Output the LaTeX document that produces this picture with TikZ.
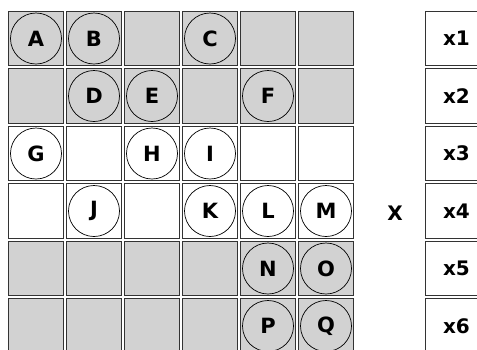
\documentclass[tikz,border=0pt]{standalone}
\usepackage{fontspec}
\setmainfont{DejaVu Sans}
\begin{document}
\begin{tikzpicture}[x=1pt,y=-1pt,
  cellbox/.style={draw=black!80,line width=0.9pt,minimum width=55pt,minimum height=54.5pt,inner sep=0pt,outer sep=0pt},
  gcell/.style={cellbox,fill=gray!35},
  wcell/.style={cellbox,fill=white},
  tok/.style={circle,draw=black,line width=0.7pt,minimum size=51pt,inner sep=0pt,font=\fontsize{21}{24}\selectfont\bfseries},
  xbox/.style={draw=black!80,line width=0.9pt,fill=white,minimum width=63pt,minimum height=54.5pt,inner sep=0pt,font=\fontsize{20}{24}\selectfont\bfseries}]
\useasboundingbox (0,0) rectangle (477,349);
\begin{scope}
\clip (0,0) rectangle (477,349);
% grid: rows r=0..5, cols c=0..5
\foreach \r/\row in {0/{g,g,g,g,g,g},1/{g,g,g,g,g,g},2/{w,w,w,w,w,w},3/{w,w,w,w,w,w},4/{g,g,g,g,g,g},5/{g,g,g,g,g,g}}{
  \foreach \t [count=\c from 0] in \row {
    \node[\t cell] (c\r\c) at ({36+58*\c},{38.5+57.5*\r}) {};
  }
}
\node[tok] (A) at (c00) {A};
\node[tok] (B) at (c01) {B};
\node[tok] (C) at (c03) {C};
\node[tok] (D) at (c11) {D};
\node[tok] (E) at (c12) {E};
\node[tok] (F) at (c14) {F};
\node[tok] (G) at (c20) {G};
\node[tok] (H) at (c22) {H};
\node[tok] (I) at (c23) {I};
\node[tok] (J) at (c31) {J};
\node[tok] (K) at (c33) {K};
\node[tok] (L) at (c34) {L};
\node[tok] (M) at (c35) {M};
\node[tok] (N) at (c44) {N};
\node[tok] (O) at (c45) {O};
\node[tok] (P) at (c54) {P};
\node[tok] (Q) at (c55) {Q};
\foreach \k in {1,...,6}{
  \node[xbox] (x\k) at (456.5,{38.5+57.5*(\k-1)}) {x\k};
}
\node[font=\fontsize{20}{24}\selectfont\bfseries] (X) at (395,213) {X};
\end{scope}
\end{tikzpicture}
\end{document}
